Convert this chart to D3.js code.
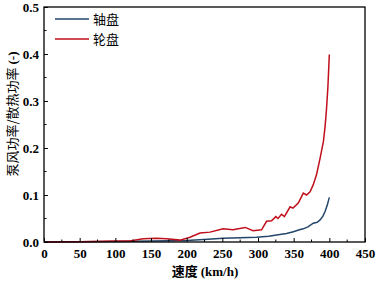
<!DOCTYPE html>
<html><head><meta charset="utf-8">
<script src="https://cdn.jsdelivr.net/npm/d3@7"></script>
<style>body{margin:0;background:#fff}</style>
</head><body>
<script>
const xTicks = [0,50,100,150,200,250,300,350,400,450];
const yTicks = [0.0,0.1,0.2,0.3,0.4,0.5];
const seriesNames = ["轴盘","轮盘"];
const colors = ["#23466a","#c0101c"];
const blueX = [0,50,100,150,200,230,251,275,298,315,326,340,349.5,358,363.5,370,377.5,383,387,391,394,397,400];
const blueY = [0,0.0005,0.001,0.002,0.003,0.006,0.008,0.009,0.010,0.012,0.015,0.018,0.022,0.026,0.028,0.032,0.040,0.042,0.047,0.055,0.065,0.078,0.095];
const redX = [0,50,100,120,139,158,172,190.7,204.7,218.7,232.7,251,265,282,293,305,312,319,325,328,333,337,345,349,356.5,363.5,368,373,377.5,382,387,391.7,394,396,398,400];
const redY = [0,0.0005,0.002,0.002,0.007,0.008,0.007,0.004,0.010,0.019,0.021,0.028,0.026,0.031,0.024,0.026,0.044,0.045,0.054,0.050,0.059,0.054,0.075,0.072,0.083,0.104,0.100,0.107,0.122,0.143,0.178,0.214,0.245,0.282,0.33,0.399];

const W=378,H=284;
const m={l:44,r:13,t:7,b:42};
const svg=d3.select("body").append("svg").attr("width",W).attr("height",H);
const x=d3.scaleLinear().domain([0,450]).range([m.l,W-m.r]);
const y=d3.scaleLinear().domain([0,0.5]).range([H-m.b,m.t]);
const num="'Liberation Serif','Times New Roman',serif";
const cjk="'Noto Sans CJK SC',sans-serif";

// lines
const line=d3.line().x(d=>x(d[0])).y(d=>y(d[1]));
svg.append("path").datum(blueX.map((v,i)=>[v,blueY[i]])).attr("d",line).attr("fill","none").attr("stroke",colors[0]).attr("stroke-width",1.5);
svg.append("path").datum(redX.map((v,i)=>[v,redY[i]])).attr("d",line).attr("fill","none").attr("stroke",colors[1]).attr("stroke-width",1.5);

// frame
svg.append("rect").attr("x",m.l).attr("y",m.t).attr("width",W-m.r-m.l).attr("height",H-m.b-m.t).attr("fill","none").attr("stroke","#000").attr("stroke-width",1.3);

// axes
const xa=svg.append("g").attr("transform",`translate(0,${H-m.b})`).call(d3.axisBottom(x).tickValues(xTicks).tickSize(-4).tickPadding(7).tickFormat(d3.format("d")));
const ya=svg.append("g").attr("transform",`translate(${m.l},0)`).call(d3.axisLeft(y).tickValues(yTicks).tickSize(-4).tickPadding(5).tickFormat(d3.format(".1f")));
// minor ticks
const xMinor=d3.range(25,450,50), yMinor=d3.range(0.05,0.5,0.1);
svg.append("g").selectAll("line").data(xMinor).join("line").attr("x1",d=>x(d)).attr("x2",d=>x(d)).attr("y1",H-m.b).attr("y2",H-m.b-2.5).attr("stroke","#000");
svg.append("g").selectAll("line").data(yMinor).join("line").attr("y1",d=>y(d)).attr("y2",d=>y(d)).attr("x1",m.l).attr("x2",m.l+2.5).attr("stroke","#000");
[xa,ya].forEach(g=>{g.select(".domain").remove();g.selectAll("line").attr("stroke","#000");g.selectAll("text").attr("font-family",num).attr("font-weight","bold").attr("font-size",13).attr("fill","#000");});

// axis titles
svg.append("text").attr("x",205).attr("y",276).attr("text-anchor","middle").attr("font-size",13).attr("font-weight","bold")
  .call(t=>{t.append("tspan").attr("font-family",cjk).text("速度 ");t.append("tspan").attr("font-family",num).text("(km/h)");});
svg.append("text").attr("transform",`translate(17,114) rotate(-90)`).attr("text-anchor","middle").attr("font-size",13)
  .call(t=>{t.append("tspan").attr("font-family",cjk).text("泵风功率/散热功率 ");t.append("tspan").attr("font-family",num).attr("font-weight","bold").text("(-)");});

// legend
seriesNames.forEach((n,i)=>{
  const ly=19+i*20;
  svg.append("line").attr("x1",55).attr("x2",89).attr("y1",ly).attr("y2",ly).attr("stroke",colors[i]).attr("stroke-width",1.5);
  svg.append("text").attr("x",93).attr("y",ly+5).attr("font-family",cjk).attr("font-size",13).attr("fill","#000").text(n);
});
</script>
</body></html>
